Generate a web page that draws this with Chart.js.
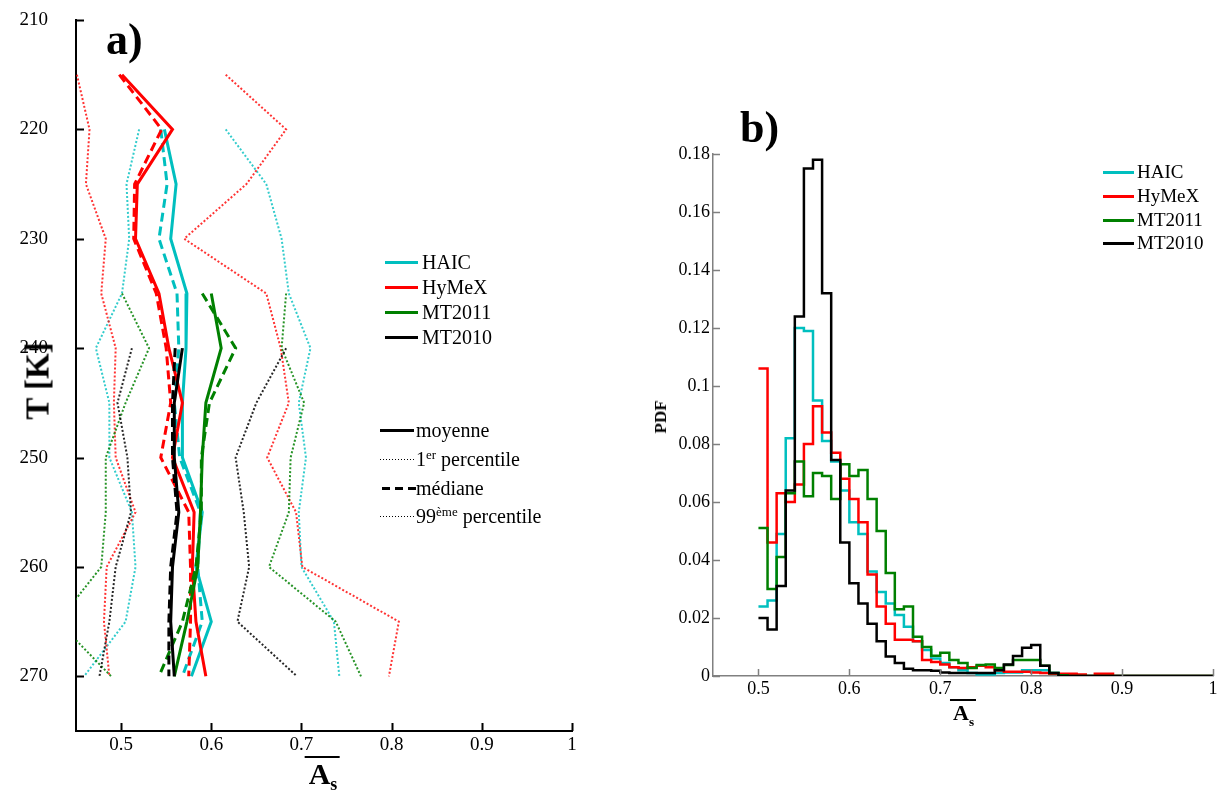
<!DOCTYPE html>
<html>
<head>
<meta charset="utf-8">
<script src="https://cdn.jsdelivr.net/npm/chart.js@4.4.0/dist/chart.umd.min.js"></script>
<style>
  body { margin: 0; background: #fff; }
  #page { position: relative; width: 1224px; height: 792px; overflow: hidden; font-family: "Liberation Serif", serif; color: #000; }
  canvas { position: absolute; top: 0; }
  .t { position: absolute; white-space: nowrap; }
  .leg-line { position: absolute; height: 3px; }
  .leg-text { position: absolute; line-height: 24px; white-space: nowrap; }
  .leg-text sup { font-size: 13px; vertical-align: 7px; line-height: 0; }
  .rot { position: absolute; transform: translate(-50%, -50%) rotate(-90deg); font-weight: bold; white-space: nowrap; }
  .as { position: absolute; transform: translateX(-50%); font-weight: bold; border-top: 2px solid #000; line-height: 1; }
  .as sub { font-size: 60%; vertical-align: -6px; }
</style>
</head>
<body>
<div id="page">
  <canvas id="chartA" width="600" height="792" style="left:0"></canvas>
  <canvas id="chartB" width="584" height="792" style="left:640px"></canvas>

  <div class="t" style="left:106px; top:14px; font-size:44px; font-weight:bold;">a)</div>
  <div class="t" style="left:740px; top:102px; font-size:44px; font-weight:bold;">b)</div>

  <div class="rot" style="left:38px; top:381px; font-size:33px;">T [K]</div>
  <div class="rot" style="left:661px; top:417px; font-size:17px;">PDF</div>

  <div class="as" style="left:322px; top:756px; font-size:30px; padding:1px 2px 0 4px;">A<sub>s</sub></div>
  <div class="as" style="left:963px; top:699px; font-size:22px; padding:1px 2px 0 3px;">A<sub>s</sub></div>

  <div id="legendA"></div>
  <div id="legendB"></div>
</div>

<script>
// --- left panel : profiles versus temperature ---
const tempLevels = [215, 220, 225, 230, 235, 240, 245, 250, 255, 260, 265, 270];
const xTicksA = [0.5, 0.6, 0.7, 0.8, 0.9, 1];
const yTicksA = [210, 220, 230, 240, 250, 260, 270];

const haicMean   = [null, 0.548, 0.561, 0.555, 0.573, 0.572, 0.568, 0.568, 0.590, 0.583, 0.600, 0.578];
const haicMed    = [null, 0.544, 0.551, 0.542, 0.562, 0.564, 0.559, 0.565, 0.588, 0.585, 0.590, 0.568];
const haicP1     = [null, 0.520, 0.506, 0.509, 0.501, 0.472, 0.487, 0.487, 0.512, 0.516, 0.505, 0.459];
const haicP99    = [null, 0.616, 0.661, 0.678, 0.686, 0.710, 0.697, 0.705, 0.697, 0.700, 0.736, 0.742];

const hymexMean  = [0.501, 0.557, 0.518, 0.516, 0.542, 0.553, 0.568, 0.557, 0.581, 0.579, 0.583, 0.594];
const hymexMed   = [0.498, 0.545, 0.515, 0.514, 0.539, 0.550, 0.555, 0.544, 0.575, 0.577, 0.577, 0.575];
const hymexP1    = [0.451, 0.465, 0.461, 0.483, 0.478, 0.494, 0.492, 0.494, 0.516, 0.484, 0.481, 0.487];
const hymexP99   = [0.616, 0.683, 0.639, 0.570, 0.661, 0.677, 0.686, 0.662, 0.694, 0.701, 0.808, 0.797];

const mt11Mean   = [null, null, null, null, 0.600, 0.611, 0.594, 0.590, 0.588, 0.585, 0.573, 0.559];
const mt11Med    = [null, null, null, null, 0.590, 0.627, 0.598, 0.589, 0.589, 0.583, 0.568, 0.542];
const mt11P1     = [null, null, null, null, 0.501, 0.531, 0.505, 0.483, 0.483, 0.478, 0.430, 0.489];
const mt11P99    = [null, null, null, null, 0.683, 0.678, 0.703, 0.688, 0.686, 0.664, 0.738, 0.766];

const mt10Mean   = [null, null, null, null, null, 0.568, 0.559, 0.559, 0.564, 0.557, 0.555, 0.559];
const mt10Med    = [null, null, null, null, null, 0.560, 0.557, 0.557, 0.562, 0.555, 0.553, 0.553];
const mt10P1     = [null, null, null, null, null, 0.512, 0.496, 0.507, 0.511, 0.494, 0.487, 0.476];
const mt10P99    = [null, null, null, null, null, 0.683, 0.650, 0.627, 0.636, 0.642, 0.629, 0.695];

// --- right panel : PDF histograms, bins of 0.01 from 0.5 to 1 ---
const binStart = 0.5, binWidth = 0.01, binCount = 50;
const xTicksB = [0.5, 0.6, 0.7, 0.8, 0.9, 1];
const yTicksB = [0, 0.02, 0.04, 0.06, 0.08, 0.1, 0.12, 0.14, 0.16, 0.18];

const haicPdf = [0.024, 0.026, 0.049, 0.082, 0.120, 0.119, 0.095, 0.081, 0.074, 0.064,
                 0.053, 0.049, 0.036, 0.029, 0.025, 0.021, 0.017, 0.012, 0.009, 0.006,
                 0.0045, 0.003, 0.002, 0.001, 0.0005, 0.0005, 0.001, 0.0012, 0.0012, 0.002,
                 0.002, 0.002, 0.001, 0.0005, 0, 0, 0, 0, 0, 0,
                 0, 0, 0, 0, 0, 0, 0, 0, 0, 0];
const hymexPdf = [0.106, 0.046, 0.063, 0.060, 0.066, 0.080, 0.093, 0.084, 0.077, 0.068,
                  0.061, 0.053, 0.035, 0.024, 0.018, 0.0125, 0.0125, 0.012, 0.0055, 0.0048,
                  0.004, 0.003, 0.0028, 0.003, 0.0035, 0.003, 0.002, 0.0015, 0.0015, 0.0015,
                  0.0012, 0.001, 0.0008, 0.0008, 0.0008, 0.0005, 0, 0.0008, 0.0008, 0,
                  0, 0, 0, 0, 0, 0, 0, 0, 0, 0];
const mt11Pdf  = [0.051, 0.030, 0.041, 0.063, 0.074, 0.062, 0.070, 0.069, 0.061, 0.073,
                  0.069, 0.071, 0.061, 0.050, 0.0355, 0.023, 0.024, 0.0135, 0.010, 0.007,
                  0.008, 0.0055, 0.0045, 0.0028, 0.0038, 0.004, 0.0028, 0.0038, 0.0055, 0.0055,
                  0.0055, 0.0035, 0.001, 0.0003, 0, 0, 0, 0, 0, 0,
                  0, 0, 0, 0, 0, 0, 0, 0, 0, 0];
const mt10Pdf  = [0.020, 0.016, 0.031, 0.064, 0.124, 0.175, 0.178, 0.132, 0.0745, 0.046,
                  0.032, 0.025, 0.018, 0.012, 0.0067, 0.0045, 0.0025, 0.002, 0.002, 0.0018,
                  0.0012, 0.001, 0.001, 0.001, 0.001, 0.001, 0.002, 0.004, 0.0069, 0.0097,
                  0.0107, 0.0035, 0.001, 0, 0, 0, 0, 0, 0, 0,
                  0, 0, 0, 0, 0, 0, 0, 0, 0, 0];

const campaigns = [
  { name: 'HAIC',   color: '#00BFBF', faint: 'rgba(0,191,191,0.8)',  mean: haicMean,  med: haicMed,  p1: haicP1,  p99: haicP99,  pdf: haicPdf,  order: 4 },
  { name: 'HyMeX',  color: '#FF0000', faint: 'rgba(255,0,0,0.8)',    mean: hymexMean, med: hymexMed, p1: hymexP1, p99: hymexP99, pdf: hymexPdf, order: 3 },
  { name: 'MT2011', color: '#008000', faint: 'rgba(0,128,0,0.85)',   mean: mt11Mean,  med: mt11Med,  p1: mt11P1,  p99: mt11P99,  pdf: mt11Pdf,  order: 2 },
  { name: 'MT2010', color: '#000000', faint: 'rgba(0,0,0,0.85)',     mean: mt10Mean,  med: mt10Med,  p1: mt10P1,  p99: mt10P99,  pdf: mt10Pdf,  order: 1 }
];

const FONT = '"Liberation Serif", serif';

function profile(values) {
  const pts = [];
  values.forEach((v, i) => { if (v !== null) pts.push({ x: v, y: tempLevels[i] }); });
  return pts;
}

// tick marks drawn inside the axes, like the original figure
const innerTicks = {
  id: 'innerTicks',
  afterDraw(chart, args, opts) {
    const { ctx, chartArea, scales } = chart;
    ctx.save();
    ctx.strokeStyle = opts.color;
    ctx.lineWidth = opts.width;
    ctx.beginPath();
    scales.x.ticks.forEach(t => {
      const px = Math.round(scales.x.getPixelForValue(t.value)) + 0.5;
      ctx.moveTo(px, chartArea.bottom);
      ctx.lineTo(px, chartArea.bottom - opts.length);
    });
    scales.y.ticks.forEach(t => {
      const py = Math.round(scales.y.getPixelForValue(t.value)) + 0.5;
      ctx.moveTo(chartArea.left, py);
      ctx.lineTo(chartArea.left + opts.length, py);
    });
    ctx.stroke();
    ctx.restore();
  }
};

const fmt = v => String(+Number(v).toFixed(2));
// keep the chart area exactly where the layout padding puts it
const noOverhang = s => { s.paddingTop = 0; s.paddingBottom = 0; s.paddingLeft = 0; s.paddingRight = 0; };

// ---------- chart a ----------
const dsA = [];
campaigns.forEach(c => {
  dsA.push({ data: profile(c.mean), borderColor: c.color, borderWidth: 3, order: c.order });
  dsA.push({ data: profile(c.med), borderColor: c.color, borderWidth: 3, borderDash: [9, 5], order: c.order + 0.5 });
  dsA.push({ data: profile(c.p1), borderColor: c.faint, borderWidth: 2, borderDash: [2, 2], order: 10 + c.order });
  dsA.push({ data: profile(c.p99), borderColor: c.faint, borderWidth: 2, borderDash: [2, 2], order: 10 + c.order });
});
dsA.forEach(d => { d.showLine = true; d.pointRadius = 0; d.fill = false; d.tension = 0; });

new Chart(document.getElementById('chartA'), {
  type: 'scatter',
  data: { datasets: dsA },
  options: {
    responsive: false,
    animation: false,
    layout: { padding: { left: 0, top: 20, right: 28, bottom: 0 } },
    plugins: { legend: { display: false }, tooltip: { enabled: false }, innerTicks: { color: '#000', width: 2, length: 8 } },
    scales: {
      x: {
        type: 'linear', min: 0.45, max: 1,
        afterBuildTicks: s => { s.ticks = xTicksA.map(v => ({ value: v })); },
        afterFit: s => { s.height = 61; noOverhang(s); },
        grid: { display: false, drawTicks: false },
        border: { display: true, color: '#000', width: 2 },
        ticks: { color: '#000', font: { family: FONT, size: 19 }, padding: 3, callback: fmt, maxRotation: 0 }
      },
      y: {
        type: 'linear', min: 210, max: 275, reverse: true,
        afterBuildTicks: s => { s.ticks = yTicksA.map(v => ({ value: v })); },
        afterFit: s => { s.width = 76; noOverhang(s); },
        grid: { display: false, drawTicks: false },
        border: { display: true, color: '#000', width: 2 },
        ticks: { color: '#000', font: { family: FONT, size: 19 }, padding: 28, callback: v => String(v) }
      }
    }
  },
  plugins: [innerTicks]
});

// ---------- chart b ----------
const binLefts = Array.from({ length: binCount }, (_, i) => +(binStart + i * binWidth).toFixed(2));
function stairs(values) {
  const pts = binLefts.map((b, i) => ({ x: b, y: values[i] }));
  pts.push({ x: +(binStart + binCount * binWidth).toFixed(2), y: values[values.length - 1] });
  return pts;
}
const dsB = campaigns.map(c => ({
  data: stairs(c.pdf), borderColor: c.color, borderWidth: 2.5, stepped: true,
  showLine: true, pointRadius: 0, fill: false, order: c.order
}));

new Chart(document.getElementById('chartB'), {
  type: 'scatter',
  data: { datasets: dsB },
  options: {
    responsive: false,
    animation: false,
    layout: { padding: { left: 0, top: 154, right: 11, bottom: 0 } },
    plugins: { legend: { display: false }, tooltip: { enabled: false }, innerTicks: { color: '#808080', width: 1.5, length: 7 } },
    scales: {
      x: {
        type: 'linear', min: 0.45, max: 1,
        afterBuildTicks: s => { s.ticks = xTicksB.map(v => ({ value: v })); },
        afterFit: s => { s.height = 116; noOverhang(s); },
        grid: { display: false, drawTicks: false },
        border: { display: true, color: '#808080', width: 1.5 },
        ticks: { color: '#000', font: { family: FONT, size: 18 }, padding: 2, callback: fmt, maxRotation: 0 }
      },
      y: {
        type: 'linear', min: 0, max: 0.18,
        afterBuildTicks: s => { s.ticks = yTicksB.map(v => ({ value: v })); },
        afterFit: s => { s.width = 73; noOverhang(s); },
        grid: { display: false, drawTicks: false },
        border: { display: true, color: '#808080', width: 1.5 },
        ticks: { color: '#000', font: { family: FONT, size: 18 }, padding: 3, callback: fmt }
      }
    }
  },
  plugins: [innerTicks]
});

// ---------- legends (html text) ----------
function addLegend(host, rows) {
  const el = document.getElementById(host);
  rows.forEach(r => {
    const line = document.createElement('div');
    line.className = 'leg-line';
    line.style.left = r.x0 + 'px';
    line.style.width = (r.x1 - r.x0) + 'px';
    line.style.top = (r.y - 1.5) + 'px';
    line.style.background = r.bg;
    if (r.h) { line.style.height = r.h + 'px'; line.style.top = (r.y - r.h / 2) + 'px'; }
    el.appendChild(line);
    const txt = document.createElement('div');
    txt.className = 'leg-text';
    txt.style.left = r.tx + 'px';
    txt.style.top = (r.y - 12) + 'px';
    txt.style.fontSize = r.size + 'px';
    txt.innerHTML = r.label;
    el.appendChild(txt);
  });
}

const rowsA = campaigns.map((c, i) => ({
  x0: 385, x1: 418, tx: 422, y: [262, 287, 312, 337][i], size: 20, label: c.name, bg: c.color
}));
const dotted = 'repeating-linear-gradient(to right, #000 0 1px, transparent 1px 3px)';
const dashed = 'repeating-linear-gradient(to right, #000 0 8px, transparent 8px 13px)';
rowsA.push({ x0: 380, x1: 414, tx: 416, y: 430, size: 20, label: 'moyenne', bg: '#000' });
rowsA.push({ x0: 380, x1: 414, tx: 416, y: 459, size: 20, label: '1<sup>er</sup> percentile', bg: dotted, h: 1 });
rowsA.push({ x0: 382, x1: 416, tx: 416, y: 488, size: 20, label: 'médiane', bg: dashed });
rowsA.push({ x0: 380, x1: 414, tx: 416, y: 516, size: 20, label: '99<sup>ème</sup> percentile', bg: dotted, h: 1 });
addLegend('legendA', rowsA);

const rowsB = campaigns.map((c, i) => ({
  x0: 1103, x1: 1134, tx: 1137, y: [172, 196, 220, 243][i], size: 19, label: c.name, bg: c.color
}));
addLegend('legendB', rowsB);
</script>
</body>
</html>
